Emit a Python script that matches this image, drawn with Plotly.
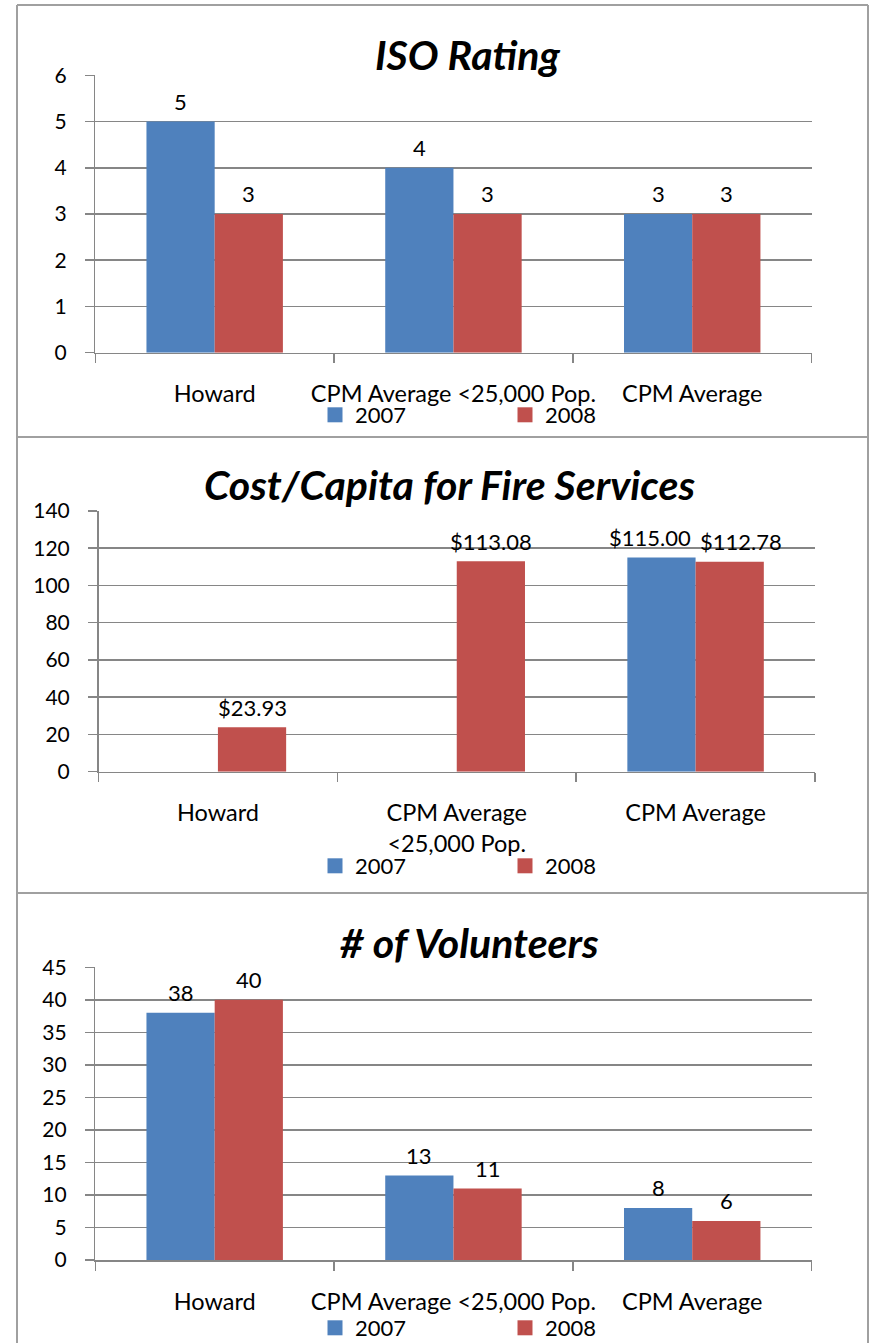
import plotly.graph_objects as go

# ---------------- data ----------------
categories = ["Howard", "CPM Average <25,000 Pop.", "CPM Average"]
series_names = ["2007", "2008"]

iso_2007 = [5, 4, 3]
iso_2008 = [3, 3, 3]

cost_2007 = [None, None, 115.00]
cost_2008 = [23.93, 113.08, 112.78]

vol_2007 = [38, 13, 8]
vol_2008 = [40, 11, 6]

titles = ["ISO Rating", "Cost/Capita for Fire Services", "# of Volunteers"]
cost_tick_labels = ["Howard", "CPM Average<br><25,000 Pop.", "CPM Average"]

# ---------------- style ----------------
W, H = 869, 1343
BLUE = "#4F81BD"
RED = "#C0504D"
GRID = "#868686"
BORDER = "#A0A0A0"
FONT = "Lato"
LABEL_SIZE = 22
BARGAP = 1.5 / 3.5


def px(x):
    return x / W


def py(y):
    return 1 - y / H


def esc(s):
    return s.replace("<br>", "\n").replace("<", "&lt;").replace("\n", "<br>")


def fmt_plain(vals):
    return ["" if v is None else f"{v:g}" for v in vals]


def fmt_money(vals):
    return ["" if v is None else f"${v:.2f}" for v in vals]


panels = [
    dict(v07=iso_2007, v08=iso_2008, fmt=fmt_plain, rng=[0, 6], dtick=1,
         x0=95.3, x1=811.6, ytop=75.3, ybot=352.7,
         ticktext=categories, title_xy=(468, 54), legend_y=415),
    dict(v07=cost_2007, v08=cost_2008, fmt=fmt_money, rng=[0, 140], dtick=20,
         x0=98.5, x1=815.0, ytop=511.0, ybot=771.7,
         ticktext=cost_tick_labels, title_xy=(449, 484), legend_y=866),
    dict(v07=vol_2007, v08=vol_2008, fmt=fmt_plain, rng=[0, 45], dtick=5,
         x0=95.3, x1=811.6, ytop=967.3, ybot=1260.0,
         ticktext=categories, title_xy=(470, 942), legend_y=1328),
]

fig = go.Figure()
layout = dict(
    width=W, height=H,
    margin=dict(l=0, r=0, t=0, b=0, pad=0, autoexpand=False),
    paper_bgcolor="white", plot_bgcolor="white",
    barmode="group", bargap=BARGAP, bargroupgap=0,
    font=dict(family=FONT, color="black"),
    annotations=[], shapes=[],
)

bar_w = (1 - BARGAP) / 2  # width of one bar in category units

for i, p in enumerate(panels):
    n = "" if i == 0 else str(i + 1)
    xa, ya = "x" + n, "y" + n
    leg = "legend" + n
    series = [(series_names[0], p["v07"], BLUE), (series_names[1], p["v08"], RED)]
    for name, vals, col in series:
        fig.add_trace(go.Bar(
            x=categories, y=vals, name=name, xaxis=xa, yaxis=ya, legend=leg,
            marker=dict(color=col, line=dict(width=0)),
            offsetgroup=name, showlegend=False,
        ))
    # legend keys (square swatches like the original)
    for name, vals, col in series:
        fig.add_trace(go.Scatter(
            x=[None], y=[None], mode="markers", name=name,
            xaxis=xa, yaxis=ya, legend=leg, showlegend=True,
            marker=dict(symbol="square", size=15, color=col, line=dict(width=0)),
        ))

    # data labels above bars (nudged apart sideways when neighbours would collide)
    cat_px = (p["x1"] - p["x0"]) / len(categories)
    dist_px = bar_w * cat_px
    texts = [p["fmt"](p["v07"]), p["fmt"](p["v08"])]
    for c in range(len(categories)):
        t0, t1 = texts[0][c], texts[1][c]
        shift = 0.0
        if t0 and t1:
            est = (len(t0) + len(t1)) / 2 * 0.53 * LABEL_SIZE + 10
            if est > dist_px:
                shift = (est - dist_px) / 2
        for j, (name, vals, col) in enumerate(series):
            v = vals[c]
            if v is None:
                continue
            layout["annotations"].append(dict(
                xref=xa, yref=ya, x=c + (j - 0.5) * bar_w, y=v,
                text=texts[j][c], showarrow=False,
                xanchor="center", yanchor="middle", yshift=20,
                xshift=(-shift if j == 0 else shift),
                font=dict(family=FONT, size=LABEL_SIZE, color="black"),
            ))

    layout["xaxis" + n] = dict(
        domain=[px(p["x0"]), px(p["x1"])], anchor=ya,
        type="category", categoryorder="array", categoryarray=categories,
        tickmode="array", tickvals=categories, ticktext=[esc(t) for t in p["ticktext"]],
        tickangle=0, showgrid=False, zeroline=False,
        showline=True, linecolor=GRID, linewidth=1.5,
        ticks="outside", tickson="boundaries", ticklen=9, tickcolor=GRID, tickwidth=1.5,
        tickfont=dict(family=FONT, size=23.5, color="black"),
        ticklabelstandoff=20, fixedrange=True, automargin=False,
    )
    layout["yaxis" + n] = dict(
        domain=[py(p["ybot"]), py(p["ytop"])], anchor=xa,
        range=p["rng"], dtick=p["dtick"], tick0=0,
        showgrid=True, gridcolor=GRID, gridwidth=1.5,
        zeroline=False, showline=True, linecolor=GRID, linewidth=1.5,
        ticks="outside", ticklen=9, tickcolor=GRID, tickwidth=1.5,
        tickfont=dict(family=FONT, size=21, color="black"),
        ticklabelstandoff=14, fixedrange=True, automargin=False,
    )
    layout[leg] = dict(
        orientation="h", x=px(315), xanchor="left",
        y=py(p["legend_y"]), yanchor="middle",
        font=dict(family=FONT, size=22, color="black"),
        bgcolor="rgba(0,0,0,0)", borderwidth=0,
        entrywidth=145, entrywidthmode="pixels", itemwidth=30,
        traceorder="normal", itemsizing="trace",
    )
    tx, ty = p["title_xy"]
    layout["annotations"].append(dict(
        text=f"<b><i>{titles[i]}</i></b>", xref="paper", yref="paper",
        x=px(tx), y=py(ty), xanchor="center", yanchor="middle",
        showarrow=False, font=dict(family=FONT, size=41, color="black"),
    ))

# table-like cell borders
for (x0, y0, x1, y1) in [(17, 5, 868, 5), (17, 437, 868, 437), (17, 893, 868, 893),
                         (17, 5, 17, H), (868, 5, 868, H)]:
    layout["shapes"].append(dict(
        type="line", xref="paper", yref="paper",
        x0=px(x0), y0=py(y0), x1=px(x1), y1=py(y1),
        line=dict(color=BORDER, width=2),
    ))

fig.update_layout(**layout)
fig.write_html(
    "out.html",
    config={"displayModeBar": False, "staticPlot": True},
    post_script=(
        "document.documentElement.style.overflow='hidden';"
        "document.documentElement.style.margin='0';"
        "document.body.style.margin='0';"
        "document.body.style.overflow='hidden';"
        "var d=document.getElementById('{plot_id}');"
        "d.style.position='fixed';d.style.left='0px';d.style.top='0px';"
    ),
)
